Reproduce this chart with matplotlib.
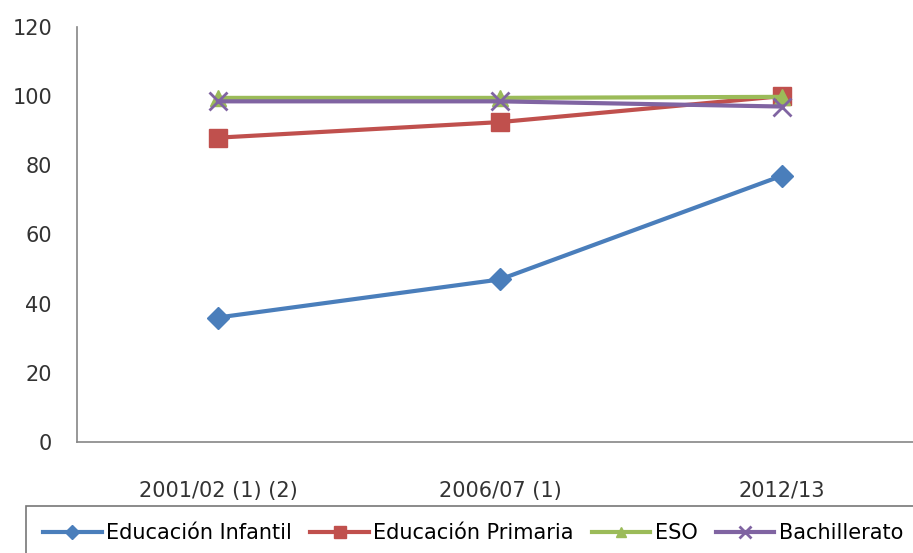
import matplotlib.pyplot as plt

# data
cursos = ["2001/02 (1) (2)", "2006/07 (1)", "2012/13"]
infantil = [36, 47, 77]
primaria = [88, 92.5, 100]
eso = [99.5, 99.5, 99.8]
bachillerato = [98.5, 98.5, 97]

fig = plt.figure(figsize=(9.13, 5.53), dpi=100)
ax = fig.add_axes([0.0843, 0.2007, 0.9266, 0.7505])

x = range(len(cursos))
ax.plot(x, infantil, color="#4A7EBB", lw=3, marker="D", ms=11, label="Educación Infantil")
ax.plot(x, primaria, color="#C0504D", lw=3, marker="s", ms=13, label="Educación Primaria")
ax.plot(x, eso, color="#9BBB59", lw=3, marker="^", ms=12, label="ESO")
ax.plot(x, bachillerato, color="#8064A2", lw=3, marker="x", ms=13, mew=2, label="Bachillerato")

ax.set_xlim(-0.5, 2.5)
ax.set_ylim(0, 120)
ax.set_yticks(range(0, 121, 20))
ax.set_xticks(list(x))
ax.set_xticklabels(cursos)

for s in ["top", "right"]:
    ax.spines[s].set_visible(False)
for s in ["left", "bottom"]:
    ax.spines[s].set_color("#868686")
    ax.spines[s].set_linewidth(1.2)

ax.tick_params(axis="y", length=0, pad=18, labelsize=15, labelcolor="#333333")
ax.tick_params(axis="x", length=0, pad=28, labelsize=15, labelcolor="#333333")

# legend box runs off the bottom edge like in the reference
leg = fig.legend(loc="upper left", bbox_to_anchor=(0.028, 0.0855), ncol=4,
                 fontsize=15, frameon=True, fancybox=False, edgecolor="#555555",
                 handlelength=2.8, handletextpad=0.2, columnspacing=0.9,
                 borderpad=0.85, borderaxespad=0, markerscale=0.65)
leg.get_frame().set_linewidth(1.2)

fig.savefig("out.png", dpi=100)
